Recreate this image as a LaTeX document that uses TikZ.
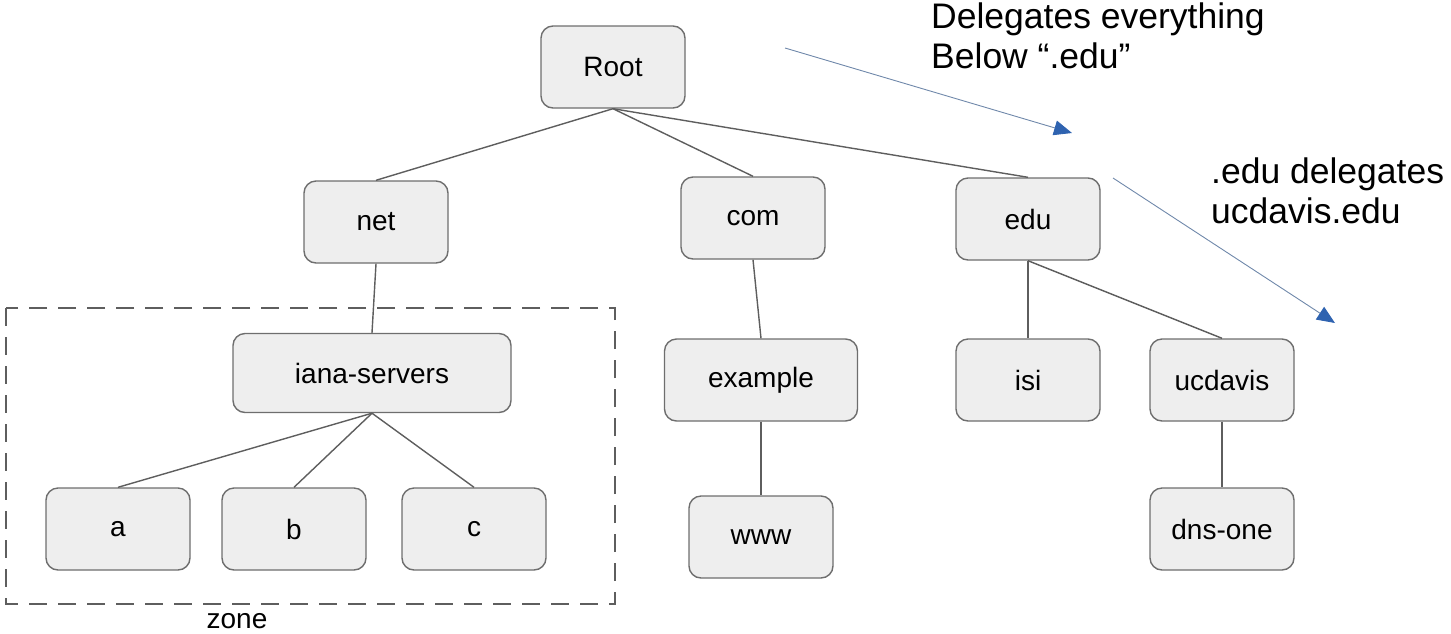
\documentclass[tikz,border=0pt]{standalone}
\usepackage{fontspec}
\setmainfont{Liberation Sans}
\usepackage{xcolor}
\usepackage{tikz}
\usetikzlibrary{arrows.meta}
\definecolor{DnsFill}{HTML}{EEEEEE}
\definecolor{DnsEdge}{HTML}{6E6E6E}
\definecolor{DnsLine}{HTML}{5E5E5E}
\definecolor{DnsBlue}{HTML}{2F63B0}
\definecolor{DnsArrow}{HTML}{6F88AA}

\begin{document}
\begin{tikzpicture}[x=1pt,y=-1pt,
  box/.style={draw=DnsEdge,line width=1.4pt,fill=DnsFill,rounded corners=12pt,minimum width=144pt,minimum height=82pt,font=\fontsize{28}{32}\selectfont},
  link/.style={DnsLine,line width=1.4pt},
  deleg/.style={DnsArrow,line width=.9pt,-{Triangle[length=18pt,width=15pt,color=DnsBlue]}},
  note/.style={align=left,anchor=base west,inner sep=0pt,font=\fontsize{35.5}{40}\selectfont}]
\useasboundingbox (0,0) rectangle (1451,633);
% zone
\draw[DnsLine,line width=1.8pt,dash pattern=on 18pt off 11pt] (6,308) rectangle (615,604);
\node[inner sep=0pt,anchor=base,font=\fontsize{28}{32}\selectfont] (zone) at (237,628) {zone};
% tree
\node[box] (root) at (613,67) {Root};
\node[box] (net) at (376,222) {net};\node[box] (com) at (753,218) {com};\node[box] (edu) at (1028,219) {edu};
\node[box,minimum width=278pt,minimum height=79pt] (iana) at (372,373) {iana-servers};
\node[box,minimum width=193pt] (example) at (761,380) {example};
\node[box] (isi) at (1028,380) {isi};\node[box] (ucdavis) at (1222,380) {ucdavis};
\node[box] (a) at (118,529) {a};\node[box] (b) at (294,529) {b};\node[box] (c) at (474,529) {c};
\node[box] (www) at (761,537) {www};\node[box] (dnsone) at (1222,529) {dns-one};
\draw[link] (root.south)--(net.north);\draw[link] (root.south)--(com.north);\draw[link] (root.south)--(edu.north);
\draw[link] (net.south)--(iana.north);\draw[link] (com.south)--(example.north);\draw[link] (example.south)--(www.north);
\draw[link] (iana.south)--(a.north);\draw[link] (iana.south)--(b.north);\draw[link] (iana.south)--(c.north);
\draw[link] (edu.south)--(isi.north);\draw[link] (edu.south)--(ucdavis.north);\draw[link] (ucdavis.south)--(dnsone.north);
% delegation notes
\coordinate (d1s) at (785,48);\coordinate (d1e) at (1072,133);
\coordinate (d2s) at (1113,178);\coordinate (d2e) at (1335,323);
\draw[deleg] (d1s)--(d1e);\draw[deleg] (d2s)--(d2e);
\node[note] (noteroot) at (931,68) {Delegates everything\\Below “.edu”};
\node[note] (noteedu) at (1211,223) {.edu delegates\\ucdavis.edu};
\end{tikzpicture}
\end{document}
